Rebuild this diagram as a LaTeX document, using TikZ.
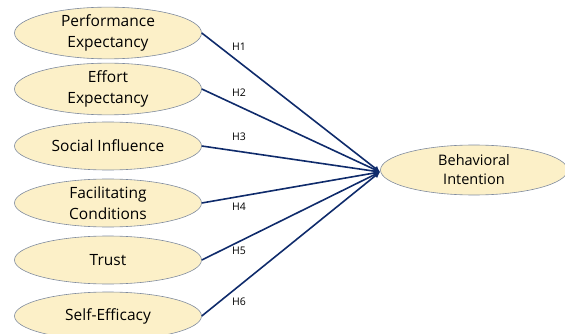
\documentclass[tikz,border=0pt]{standalone}
\usepackage{fontspec}
\setmainfont{Open Sans}
\usetikzlibrary{shapes.geometric,arrows.meta}
\definecolor{efill}{HTML}{FCF0C8}
\definecolor{edraw}{HTML}{7F8B9E}
\definecolor{navy}{HTML}{0F2B6B}
\tikzset{
  cons/.style={ellipse, draw=edraw, line width=0.6pt, fill=efill, minimum width=187pt, minimum height=48pt, inner sep=0pt, align=center, font=\fontsize{15.5}{21}\selectfont, text=black},
  link/.style={navy, line width=1.6pt, -{Latex[length=6pt,width=6pt]}},
  hlab/.style={font=\fontsize{10.5}{12}\selectfont, text=black}
}
\begin{document}
\begin{tikzpicture}[x=1pt,y=-1pt]
\useasboundingbox (0,0) rectangle (565,334);
\clip (0,0) rectangle (565,334);
\node[cons] (pe) at (108,33) {Performance\\Expectancy};
\node[cons] (ee) at (108,89) {Effort\\Expectancy};
\node[cons] (si) at (108,146) {Social Influence};
\node[cons] (fc) at (108,203) {Facilitating\\Conditions};
\node[cons] (tr) at (108,260) {Trust};
\node[cons] (se) at (108,316) {Self-Efficacy};
\node[cons, minimum height=50pt, font=\fontsize{14.5}{19}\selectfont] (bi) at (474,170) {Behavioral\\Intention};
\coordinate (t) at (380,172);
\foreach \n in {pe,ee,si,fc,tr,se} \draw[link] (\n.east) -- (t);
\node[hlab] (h1) at (239,47) {H1};
\node[hlab] (h2) at (239,93) {H2};
\node[hlab] (h3) at (239,137) {H3};
\node[hlab] (h4) at (239,207) {H4};
\node[hlab] (h5) at (239,251) {H5};
\node[hlab] (h6) at (239,302) {H6};
\end{tikzpicture}
\end{document}
